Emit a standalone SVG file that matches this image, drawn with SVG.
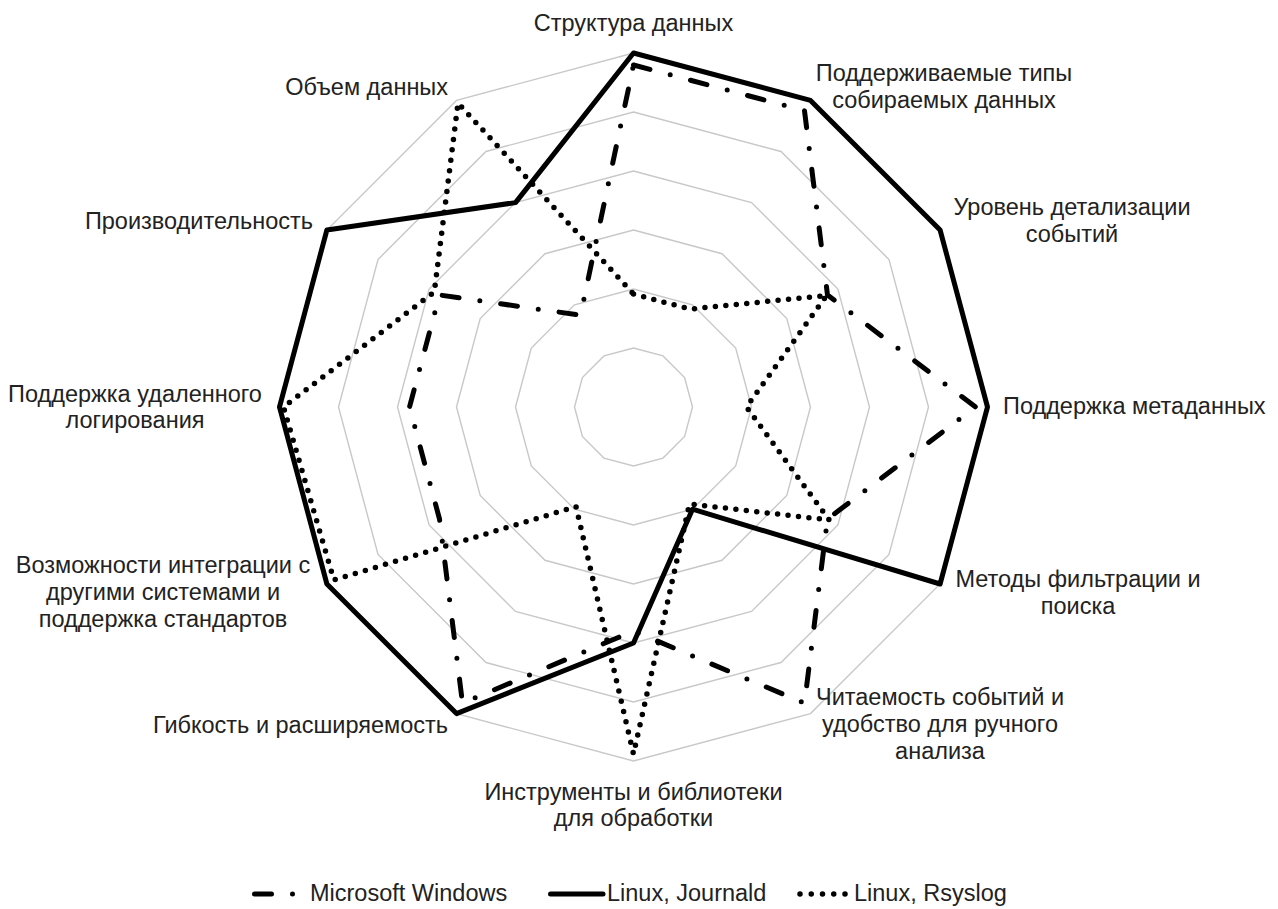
<svg xmlns="http://www.w3.org/2000/svg" width="1278" height="909" viewBox="0 0 1278 909">
<style>
.grid{fill:none;stroke:#c8c8c8;stroke-width:1.4}
.lbl{font-family:"Liberation Sans",Arial,Helvetica,sans-serif;font-size:23.5px;fill:#222}
.mid{text-anchor:middle}
.end{text-anchor:end}
.win{fill:none;stroke:#000;stroke-width:5;stroke-linecap:round;stroke-linejoin:round;stroke-dasharray:17 21 0 21}
.jrn{fill:none;stroke:#000;stroke-width:5;stroke-linejoin:round}
.rsy{fill:none;stroke:#000;stroke-width:5.5;stroke-linecap:round;stroke-linejoin:round;stroke-dasharray:0 10.5}
</style>
<rect width="1278" height="909" fill="#fff"/>
<g id="grid" transform="translate(633.5 407)">
<polygon class="grid" points="0,-59 29.5,-51.1 51.1,-29.5 59,0 51.1,29.5 29.5,51.1 0,59 -29.5,51.1 -51.1,29.5 -59,0 -51.1,-29.5 -29.5,-51.1"/>
<polygon class="grid" points="0,-118 59,-102.2 102.2,-59 118,0 102.2,59 59,102.2 0,118 -59,102.2 -102.2,59 -118,0 -102.2,-59 -59,-102.2"/>
<polygon class="grid" points="0,-177 88.5,-153.3 153.3,-88.5 177,0 153.3,88.5 88.5,153.3 0,177 -88.5,153.3 -153.3,88.5 -177,0 -153.3,-88.5 -88.5,-153.3"/>
<polygon class="grid" points="0,-236 118,-204.4 204.4,-118 236,0 204.4,118 118,204.4 0,236 -118,204.4 -204.4,118 -236,0 -204.4,-118 -118,-204.4"/>
<polygon class="grid" points="0,-295 147.5,-255.5 255.5,-147.5 295,0 255.5,147.5 147.5,255.5 0,295 -147.5,255.5 -255.5,147.5 -295,0 -255.5,-147.5 -147.5,-255.5"/>
<polygon class="grid" points="0,-354 177,-306.6 306.6,-177 354,0 306.6,177 177,306.6 0,354 -177,306.6 -306.6,177 -354,0 -306.6,-177 -177,-306.6"/>
</g>
<g id="series" transform="translate(633.5 407)">
<polygon id="s-windows" class="win" points="0,-342 171,-296.2 194,-112 342,0 194,112 171,296.2 0,224 -171,296.2 -194,112 -224,0 -194,-112 -53,-91.8"/>
<polygon id="s-journald" class="jrn" points="0,-354 177,-306.6 306.6,-177 354,0 306.6,177 59,102.2 0,236 -177,306.6 -306.6,177 -354,0 -306.6,-177 -118,-204.4"/>
<polygon id="s-rsyslog" class="rsy" points="0,-113 56.5,-97.9 193.1,-111.5 113,0 195.7,113 56,97 0,347 -57.5,99.6 -299.6,173 -350,0 -199.2,-115 -175.5,-304"/>
</g>
<g id="ax0"><text class="lbl mid" x="633.5" y="31">Структура данных</text></g>
<g id="ax1"><text class="lbl mid" x="944" y="81">Поддерживаемые типы</text><text class="lbl mid" x="944" y="108">собираемых данных</text></g>
<g id="ax2"><text class="lbl mid" x="1072" y="215">Уровень детализации</text><text class="lbl mid" x="1072" y="242">событий</text></g>
<g id="ax3"><text class="lbl" x="1003" y="414">Поддержка метаданных</text></g>
<g id="ax4"><text class="lbl mid" x="1078" y="587">Методы фильтрации и</text><text class="lbl mid" x="1078" y="614">поиска</text></g>
<g id="ax5"><text class="lbl mid" x="940" y="705">Читаемость событий и</text><text class="lbl mid" x="940" y="732">удобство для ручного</text><text class="lbl mid" x="940" y="759">анализа</text></g>
<g id="ax6"><text class="lbl mid" x="633.5" y="800">Инструменты и библиотеки</text><text class="lbl mid" x="633.5" y="826">для обработки</text></g>
<g id="ax7"><text class="lbl end" x="448" y="733">Гибкость и расширяемость</text></g>
<g id="ax8"><text class="lbl mid" x="163" y="573">Возможности интеграции с</text><text class="lbl mid" x="163" y="600">другими системами и</text><text class="lbl mid" x="163" y="627">поддержка стандартов</text></g>
<g id="ax9"><text class="lbl mid" x="135" y="402">Поддержка удаленного</text><text class="lbl mid" x="135" y="428">логирования</text></g>
<g id="ax10"><text class="lbl end" x="313" y="229">Производительность</text></g>
<g id="ax11"><text class="lbl end" x="448" y="95">Объем данных</text></g>
<g id="legend">
<line class="win" x1="254.5" y1="894" x2="300" y2="894"/>
<text class="lbl" x="310" y="901">Microsoft Windows</text>
<line class="jrn" x1="550.5" y1="894" x2="603" y2="894" stroke-linecap="round"/>
<text class="lbl" x="607" y="901">Linux, Journald</text>
<line class="rsy" x1="800" y1="894" x2="846" y2="894" style="stroke-dasharray:0 11.25"/>
<text class="lbl" x="854" y="901">Linux, Rsyslog</text>
</g>
</svg>
